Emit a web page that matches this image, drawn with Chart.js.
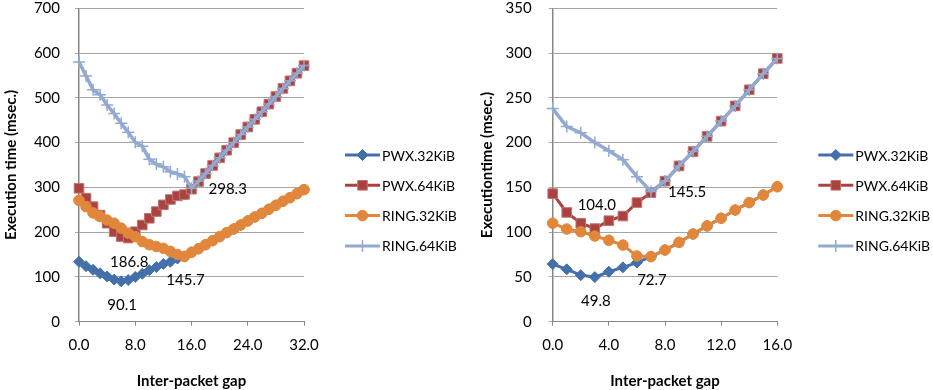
<!DOCTYPE html>
<html>
<head>
<meta charset="utf-8">
<script src="https://cdn.jsdelivr.net/npm/chart.js@4.4.1/dist/chart.umd.min.js"></script>
<style>
  html, body { margin: 0; padding: 0; background: #fff; }
  #wrap { position: relative; width: 933px; height: 390px; }
  #left { position: absolute; left: 0; top: 0; }
  #right { position: absolute; left: 466px; top: 0; }
</style>
</head>
<body>
<div id="wrap">
  <canvas id="left" width="466" height="390"></canvas>
  <canvas id="right" width="467" height="390"></canvas>
</div>
<script>
var seriesNames = ['PWX.32KiB', 'PWX.64KiB', 'RING.32KiB', 'RING.64KiB'];

// left chart: gap 0..32
var gapsA = [0, 1, 2, 3, 4, 5, 6, 7, 8, 9, 10, 11, 12, 13, 14, 15, 16,
             17, 18, 19, 20, 21, 22, 23, 24, 25, 26, 27, 28, 29, 30, 31, 32];
var pwx32A = [134, 124, 116, 108, 101, 94, 90.1, 93, 100, 107, 115, 122, 129, 134, 141, 145.7, 155,
              163, 172, 181, 190, 199, 207, 216, 225, 234, 242, 251, 260, 269, 277, 286, 295];
var pwx64A = [298, 276, 257, 238, 220, 201, 190, 186.8, 201, 216, 231, 246, 261, 273, 281, 284, 296,
              313, 331, 349, 366, 383, 400, 418, 435, 452, 469, 486, 503, 521, 538, 555, 572];
var ring32A = [271, 257, 243, 235, 227, 220, 209, 198, 190, 179, 172, 168, 164, 157, 150, 145.7, 155,
               163, 172, 181, 190, 199, 207, 216, 225, 234, 242, 251, 260, 269, 277, 286, 295];
var ring64A = [580, 549, 518, 507, 484, 465, 443, 423, 401, 392, 363, 352, 346, 335, 330, 324, 298.3,
               314, 331, 349, 366, 383, 400, 418, 435, 452, 469, 486, 503, 521, 538, 555, 572];

// right chart: gap 0..16
var gapsB = [0, 1, 2, 3, 4, 5, 6, 7, 8, 9, 10, 11, 12, 13, 14, 15, 16];
var pwx32B = [64.4, 58.5, 52, 49.8, 55.8, 60.7, 66, 72.7, 80, 88.6, 98, 107, 115.5, 124.7, 133, 141.5, 150.8];
var pwx64B = [143, 122, 110, 104.0, 112.8, 118, 133, 144, 157, 174, 190, 207, 224, 241, 259, 277, 294];
var ring32B = [110, 103.5, 100.5, 95.7, 91, 85.6, 73.4, 72.7, 80, 88.6, 98, 107, 115.5, 124.7, 133, 141.5, 150.8];
var ring64B = [238, 218, 211, 200, 191, 181, 162, 145.5, 157, 174, 190, 207, 224, 241, 259, 277, 294];

var yTicksA = [0, 700, 100];
var yTicksB = [0, 350, 50];
var xTicksA = [0, 32, 8];
var xTicksB = [0, 16, 4];

var styles = [
  { color: '#4470AA', edge: '#4470AA', shape: 'rectRot', r: 5.5, bw: 1 },
  { color: '#AA4340', edge: '#C07472', shape: 'rect', r: 6.8, bw: 1 },
  { color: '#E0873C', edge: '#E0873C', shape: 'circle', r: 5.3, bw: 1 },
  { color: '#92A9D0', edge: '#92A9D0', shape: 'cross', r: 6, bw: 1.5 }
];

var FONT = 'Lato, "Open Sans", sans-serif';
Chart.defaults.font.family = FONT;
Chart.defaults.font.size = 15;
Chart.defaults.color = '#000';

function makeSets(xs, cols) {
  return cols.map(function(vals, i) {
    var st = styles[i];
    return {
      label: seriesNames[i],
      data: xs.map(function(x, j) { return { x: x, y: vals[j] }; }),
      borderColor: st.color,
      backgroundColor: st.color,
      borderWidth: i === 3 ? 3.5 : 3,
      pointStyle: st.shape,
      pointRadius: st.r,
      pointHoverRadius: st.r,
      pointBorderWidth: st.bw,
      pointBackgroundColor: st.color,
      pointBorderColor: st.edge,
      tension: 0,
      clip: false,
      order: 4 - i
    };
  });
}

function drawMarker(ctx, st, x, y) {
  ctx.fillStyle = st.color;
  ctx.strokeStyle = st.edge;
  ctx.lineWidth = st.bw;
  if (Chart.helpers && Chart.helpers.drawPoint) {
    Chart.helpers.drawPoint(ctx, { pointStyle: st.shape, radius: st.r, rotation: 0, borderWidth: st.bw }, x, y);
  }
}

var extras = {
  id: 'extras',
  afterDraw: function(chart, args, opts) {
    var ctx = chart.ctx;
    var area = chart.chartArea;
    ctx.save();
    ctx.font = '15px ' + FONT;

    (opts.labels || []).forEach(function(l) {
      var pt = chart.getDatasetMeta(l.series).data[l.index];
      var txt = chart.data.datasets[l.series].data[l.index].y.toFixed(1);
      ctx.fillStyle = '#000';
      ctx.textBaseline = 'middle';
      if (l.pos === 'right') {
        ctx.textAlign = 'left';
        ctx.fillText(txt, pt.x + 17, pt.y + 1);
      } else if (l.pos === 'above') {
        ctx.textAlign = 'center';
        ctx.fillText(txt, pt.x + 2, pt.y - 23);
      } else {
        ctx.textAlign = 'center';
        ctx.fillText(txt, pt.x + 1, pt.y + 24);
      }
    });

    // legend: line sample with marker, then name
    ctx.font = '14px ' + FONT;
    var x0 = area.right + 41;
    chart.data.datasets.forEach(function(ds, i) {
      var st = styles[i];
      var y = 155 + i * 30.3;
      ctx.strokeStyle = st.color;
      ctx.lineWidth = 3;
      ctx.beginPath();
      ctx.moveTo(x0, y);
      ctx.lineTo(x0 + 35, y);
      ctx.stroke();
      drawMarker(ctx, st, x0 + 17.5, y);
      ctx.fillStyle = '#000';
      ctx.textAlign = 'left';
      ctx.textBaseline = 'middle';
      ctx.fillText(ds.label, x0 + 37, y + 1);
    });
    ctx.restore();
  }
};

function makeChart(id, xs, cols, xT, yT, yTitle, cfg) {
  return new Chart(document.getElementById(id), {
    type: 'line',
    data: { datasets: makeSets(xs, cols) },
    plugins: [extras],
    options: {
      responsive: false,
      animation: false,
      events: [],
      layout: { padding: { top: 8.3, right: cfg.rightPad, bottom: 0, left: 0 } },
      plugins: {
        legend: { display: false },
        tooltip: { enabled: false },
        extras: { labels: cfg.labels }
      },
      scales: {
        x: {
          type: 'linear',
          min: xT[0], max: xT[1],
          ticks: {
            stepSize: xT[2], padding: 10, maxRotation: 0,
            callback: function(v) { return v.toFixed(1); }
          },
          grid: { drawOnChartArea: false, drawTicks: true, tickLength: 4, color: '#868686' },
          border: { color: '#868686', width: 1 },
          title: {
            display: true, text: 'Inter-packet gap',
            font: { weight: 'bold', size: 15 }, padding: { top: 0, bottom: 0 }
          },
          afterFit: function(s) { s.height = 68.3; s.paddingLeft = 0; s.paddingRight = 0; }
        },
        y: {
          min: yT[0], max: yT[1],
          ticks: { stepSize: yT[2], padding: cfg.yTickPad },
          grid: { color: '#A6A6A6', tickLength: 4 },
          border: { color: '#868686', width: 1.5 },
          title: {
            display: true, text: yTitle,
            font: { weight: 'bold', size: 15 }, padding: { top: cfg.yTitlePad, bottom: 0 }
          },
          afterFit: function(s) { s.width = cfg.yWidth; s.paddingTop = 0; s.paddingBottom = 0; }
        }
      }
    }
  });
}

makeChart('left', gapsA, [pwx32A, pwx64A, ring32A, ring64A], xTicksA, yTicksA,
  'Execution time (msec.)',
  { rightPad: 162, yWidth: 79, yTickPad: 15, yTitlePad: 2,
    labels: [
      { series: 0, index: 6, pos: 'below' },
      { series: 1, index: 7, pos: 'below' },
      { series: 2, index: 15, pos: 'below' },
      { series: 3, index: 16, pos: 'right' }
    ] });

makeChart('right', gapsB, [pwx32B, pwx64B, ring32B, ring64B], xTicksB, yTicksB,
  'Executiontime (msec.)',
  { rightPad: 155.7, yWidth: 86.7, yTickPad: 17, yTitlePad: 12.5,
    labels: [
      { series: 0, index: 3, pos: 'below' },
      { series: 1, index: 3, pos: 'above' },
      { series: 2, index: 7, pos: 'below' },
      { series: 3, index: 7, pos: 'right' }
    ] });
</script>
</body>
</html>
